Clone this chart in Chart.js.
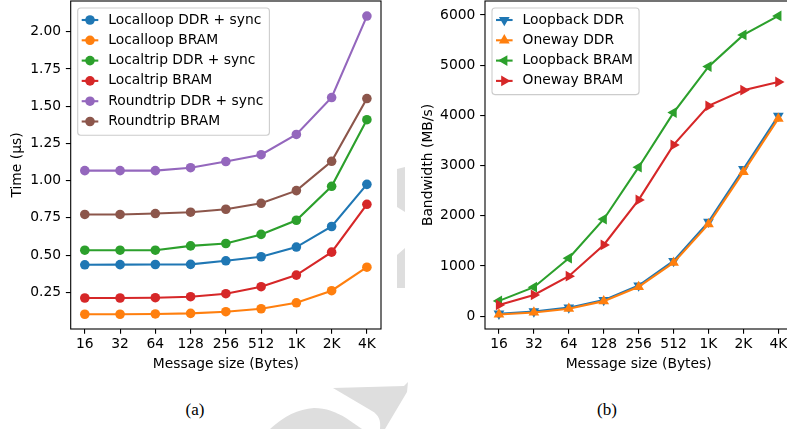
<!DOCTYPE html>
<html>
<head>
<meta charset="utf-8">
<script src="https://cdn.jsdelivr.net/npm/chart.js@4/dist/chart.umd.min.js"></script>
<style>
  html, body { margin: 0; padding: 0; background: #fff; width: 787px; height: 429px; overflow: hidden; position: relative; }
  #mark { position: absolute; left: 0; top: 0; z-index: 0; }
  canvas { position: absolute; top: 0; background: #fff; z-index: 1; }
  #latency { left: 0; }
  #bandwidth { left: 405px; }
  .cap { position: absolute; z-index: 2; font-family: "Liberation Serif", serif; font-size: 17px; color: #000;
         transform: translate(-50%, -50%); white-space: nowrap; }
</style>
</head>
<body>
<svg id="mark" width="787" height="429">
  <g fill="#dedede">
    <polygon points="397,169 405,167 405,212 397,207"/>
    <polygon points="397,255 405,248 405,288 397,288"/>
    <path d="M270,429 C284,416 298,409 314,408 C326,408 336,412 346,418 L362,429 Z"/>
    <path d="M333,388 L404,386 L408,382 L407,392 L385,429 L380,429 C381,421 379,415 372,411 Z"/>
  </g>
</svg>
<canvas id="latency" width="397" height="378"></canvas>
<canvas id="bandwidth" width="400" height="378"></canvas>
<div class="cap" style="left:195px; top:410px;">(a)</div>
<div class="cap" style="left:607px; top:410px;">(b)</div>

<script>
// Message sizes on the shared x axis
const sizes = ['16', '32', '64', '128', '256', '512', '1K', '2K', '4K'];

// Panel (a): latency in microseconds
const timeTicks = [0.25, 0.50, 0.75, 1.00, 1.25, 1.50, 1.75, 2.00];
const localloopDdrSync = [0.435, 0.436, 0.437, 0.438, 0.462, 0.489, 0.554, 0.692, 0.975];
const localloopBram    = [0.103, 0.103, 0.105, 0.109, 0.120, 0.140, 0.180, 0.261, 0.419];
const localtripDdrSync = [0.533, 0.533, 0.533, 0.562, 0.578, 0.639, 0.734, 0.962, 1.409];
const localtripBram    = [0.212, 0.212, 0.214, 0.221, 0.241, 0.288, 0.366, 0.520, 0.841];
const roundtripDdrSync = [1.067, 1.067, 1.067, 1.087, 1.128, 1.174, 1.310, 1.558, 2.105];
const roundtripBram    = [0.773, 0.773, 0.779, 0.788, 0.808, 0.848, 0.933, 1.130, 1.551];

// Panel (b): bandwidth in MB/s
const bwTicks = [0, 1000, 2000, 3000, 4000, 5000, 6000];
const loopbackDdr  = [50, 95, 170, 320, 610, 1100, 1880, 2930, 3990];
const onewayDdr    = [35, 75, 150, 300, 585, 1065, 1835, 2875, 3935];
const loopbackBram = [305, 578, 1155, 1932, 2968, 4056, 4972, 5604, 5982];
const onewayBram   = [225, 424, 797, 1420, 2317, 3412, 4189, 4502, 4667];

const C = { blue: '#1f77b4', orange: '#ff7f0e', green: '#2ca02c', red: '#d62728', purple: '#9467bd', brown: '#8c564b' };
const FONT = { family: '"DejaVu Sans", sans-serif', size: 13.85, lineHeight: 1.2 };
const INK = '#000';

function drawMarker(ctx, style, r, rot, x, y) {
  ctx.beginPath();
  if (style === 'circle') {
    ctx.arc(x, y, r, 0, Math.PI * 2);
  } else {
    let a = rot * Math.PI / 180;
    for (let k = 0; k < 3; k++) {
      const px = x + Math.sin(a) * r, py = y - Math.cos(a) * r;
      if (k === 0) ctx.moveTo(px, py); else ctx.lineTo(px, py);
      a += Math.PI * 2 / 3;
    }
    ctx.closePath();
  }
  ctx.fill();
}

// Full box around the plotting area
const framePlugin = {
  id: 'frame',
  afterDatasetsDraw(chart) {
    const { ctx, chartArea: a } = chart;
    ctx.save();
    ctx.strokeStyle = INK;
    ctx.lineWidth = 1.1;
    ctx.strokeRect(a.left, a.top, a.right - a.left, a.bottom - a.top);
    ctx.restore();
  }
};

// Boxed legend with a line-and-marker handle per series
const boxLegendPlugin = {
  id: 'boxLegend',
  afterDraw(chart) {
    const { ctx, chartArea: a } = chart;
    const sets = chart.data.datasets;
    const row = 20.3, x0 = a.left + 7, y0 = a.top + 7;
    ctx.save();
    ctx.font = `${FONT.size}px ${FONT.family}`;
    const textW = Math.max(...sets.map(d => ctx.measureText(d.label).width));
    const w = 30.6 + textW + 6, h = sets.length * row + 5.4;
    ctx.beginPath();
    ctx.roundRect(x0, y0, w, h, 3);
    ctx.fillStyle = 'rgba(255,255,255,0.8)';
    ctx.fill();
    ctx.strokeStyle = '#cccccc';
    ctx.lineWidth = 1.1;
    ctx.stroke();
    sets.forEach((d, i) => {
      const y = y0 + 12 + i * row;
      ctx.strokeStyle = d.borderColor;
      ctx.lineWidth = d.borderWidth;
      ctx.beginPath();
      ctx.moveTo(x0 + 4, y);
      ctx.lineTo(x0 + 20.6, y);
      ctx.stroke();
      ctx.fillStyle = d.borderColor;
      drawMarker(ctx, d.pointStyle, d.pointRadius, d.pointRotation, x0 + 12.3, y);
      ctx.fillStyle = INK;
      ctx.textBaseline = 'middle';
      ctx.textAlign = 'left';
      ctx.fillText(d.label, x0 + 30.6, y);
    });
    ctx.restore();
  }
};

function series(label, values, color, style = 'circle', rotation = 0, radius = 4.8) {
  return {
    label,
    data: values.map((y, i) => ({ x: i, y })),
    borderColor: color,
    backgroundColor: color,
    pointBackgroundColor: color,
    pointBorderWidth: 0,
    borderWidth: 2.1,
    pointStyle: style,
    pointRotation: rotation,
    pointRadius: radius,
    pointHoverRadius: radius,
    tension: 0
  };
}

function xScale(height) {
  return {
    type: 'linear', min: -0.4, max: 8.4,
    afterBuildTicks: s => { s.ticks = sizes.map((_, i) => ({ value: i })); },
    afterFit: s => { s.height = height; s.paddingLeft = 0; s.paddingRight = 0; },
    ticks: { callback: v => sizes[v], font: FONT, color: INK, padding: 2.6, maxRotation: 0, autoSkip: false },
    grid: { display: true, drawOnChartArea: false, drawTicks: true, tickLength: 4.85, color: INK, lineWidth: 1.1 },
    border: { display: false },
    title: { display: true, text: 'Message size (Bytes)', font: FONT, color: INK, padding: { top: 0, bottom: 0 } }
  };
}

function yScale(min, max, ticks, fmt, width, title, titlePad) {
  return {
    type: 'linear', min, max,
    afterBuildTicks: s => { s.ticks = ticks.map(v => ({ value: v })); },
    afterFit: s => { s.width = width; s.paddingTop = 0; s.paddingBottom = 0; },
    ticks: { callback: fmt, font: FONT, color: INK, padding: 4.85, autoSkip: false },
    grid: { display: true, drawOnChartArea: false, drawTicks: true, tickLength: 4.85, color: INK, lineWidth: 1.1 },
    border: { display: false },
    title: { display: true, text: title, font: FONT, color: INK, padding: { top: titlePad, bottom: 0 } }
  };
}

function build(id, datasets, y, padding) {
  datasets.forEach((d, i) => { d.order = datasets.length - i; });
  return new Chart(document.getElementById(id), {
    type: 'line',
    data: { datasets },
    options: {
      responsive: false,
      devicePixelRatio: 1,
      animation: false,
      events: [],
      layout: { padding, autoPadding: false },
      plugins: { legend: { display: false }, tooltip: { enabled: false } },
      scales: { x: xScale(43.3), y }
    },
    plugins: [framePlugin, boxLegendPlugin]
  });
}

build('latency', [
  series('Localloop DDR + sync', localloopDdrSync, C.blue),
  series('Localloop BRAM', localloopBram, C.orange),
  series('Localtrip DDR + sync', localtripDdrSync, C.green),
  series('Localtrip BRAM', localtripBram, C.red),
  series('Roundtrip DDR + sync', roundtripDdrSync, C.purple),
  series('Roundtrip BRAM', roundtripBram, C.brown)
], yScale(0.004, 2.206, timeTicks, v => v.toFixed(2), 70.7, 'Time (µs)', 9.2),
   { left: 0, right: 16, top: 1, bottom: 5.7 });

build('bandwidth', [
  series('Loopback DDR', loopbackDdr, C.blue, 'triangle', 180, 6.2),
  series('Oneway DDR', onewayDdr, C.orange, 'triangle', 0, 6.2),
  series('Loopback BRAM', loopbackBram, C.green, 'triangle', 270, 6.2),
  series('Oneway BRAM', onewayBram, C.red, 'triangle', 90, 6.2)
], yScale(-255, 6279, bwTicks, v => String(v), 80, 'Bandwidth (MB/s)', 15.5),
   { left: 0, right: 12.7, top: 1, bottom: 5.7 });
</script>
</body>
</html>
